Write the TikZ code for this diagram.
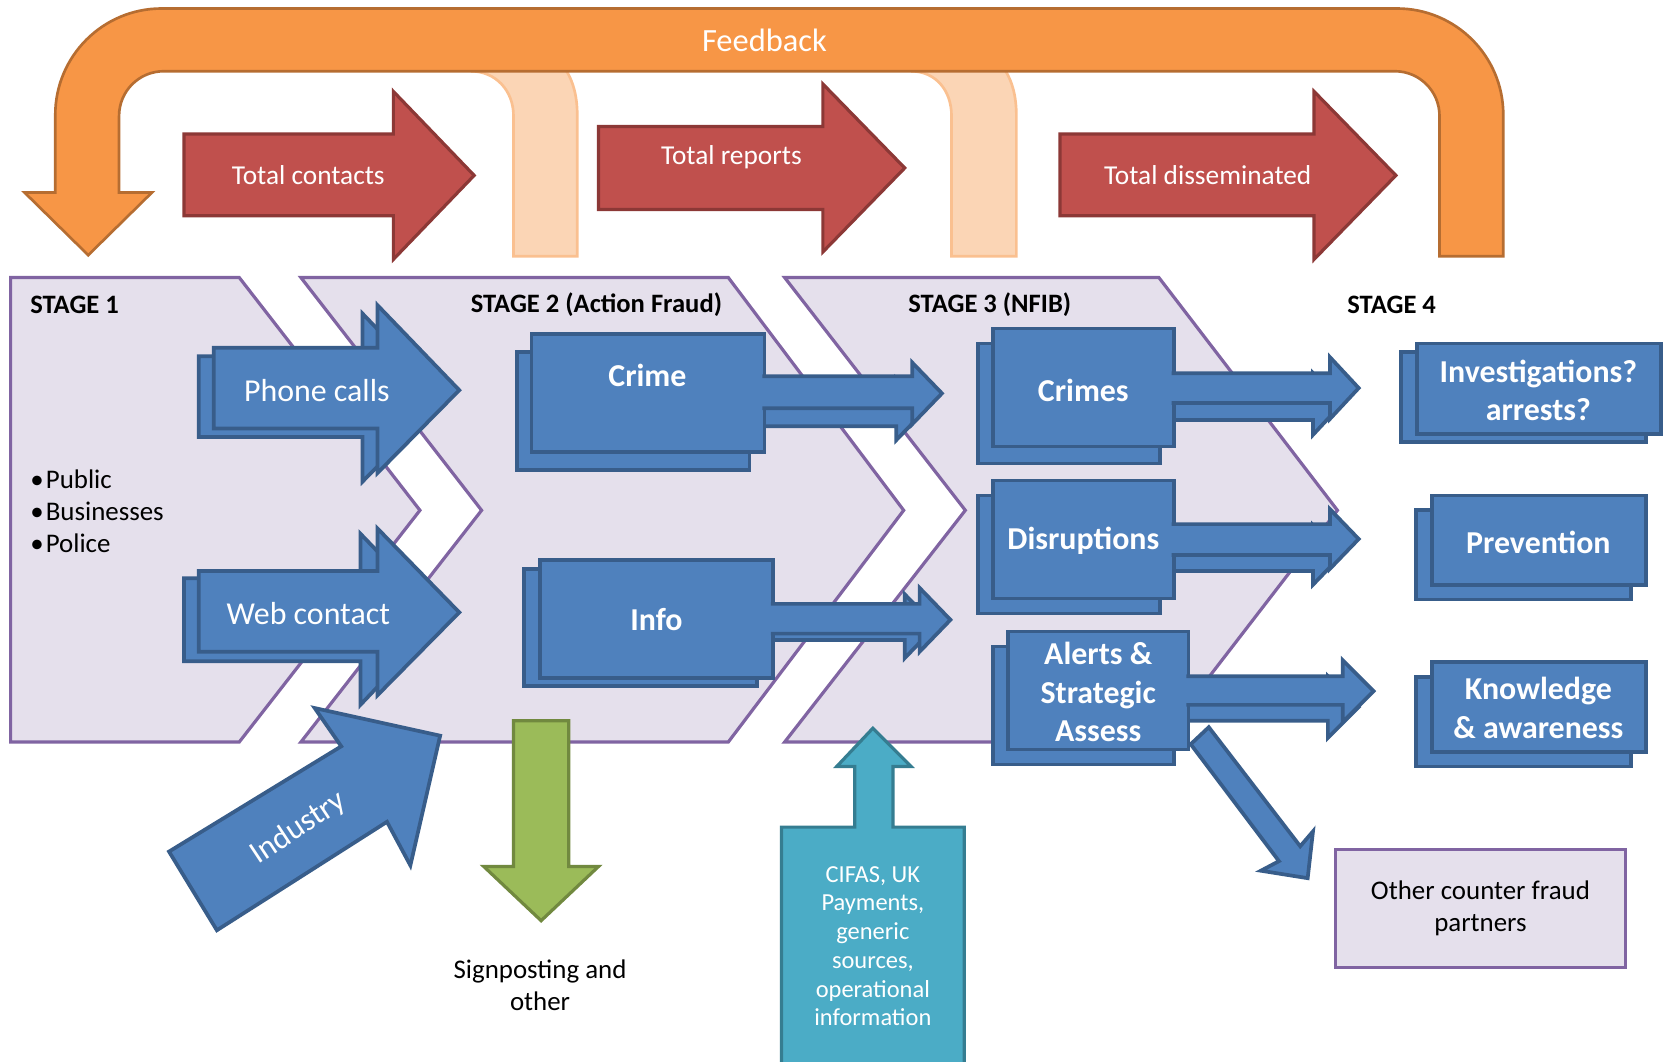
\documentclass[tikz,border=0pt]{standalone}
\usepackage{fontspec}
\setmainfont{Carlito}

\definecolor{lavfill}{HTML}{E5E0EC}
\definecolor{lavline}{HTML}{8064A2}
\definecolor{redfill}{HTML}{C0504D}
\definecolor{redline}{HTML}{8C3836}
\definecolor{orangefill}{HTML}{F79646}
\definecolor{orangeline}{HTML}{B66D31}
\definecolor{peachfill}{HTML}{FBD5B5}
\definecolor{peachline}{HTML}{FAC090}
\definecolor{bluefill}{HTML}{4F81BD}
\definecolor{blueline}{HTML}{385D8A}
\definecolor{greenfill}{HTML}{9BBB59}
\definecolor{greenline}{HTML}{71893F}
\definecolor{cyanfill}{HTML}{4BACC6}
\definecolor{cyanline}{HTML}{357D91}

\begin{document}
\begin{tikzpicture}[x=1pt, y=-1pt, line join=miter,
    stagebox/.style={fill=lavfill, draw=lavline, line width=3pt},
    redarrow/.style={fill=redfill, draw=redline, line width=3pt},
    feedarrow/.style={fill=orangefill, draw=orangeline, line width=2.5pt},
    ghost/.style={fill=peachfill, draw=peachline, line width=2.5pt},
    bluearrow/.style={fill=bluefill, draw=blueline, line width=3.5pt},
    greenarrow/.style={fill=greenfill, draw=greenline, line width=3pt},
    cyanarrow/.style={fill=cyanfill, draw=cyanline, line width=3pt},
    bluebox/.style={rectangle, fill=bluefill, draw=blueline, line width=3.5pt, inner sep=0pt},
    otherbox/.style={rectangle, fill=lavfill, draw=lavline, line width=3pt, inner sep=0pt},
    stagetext/.style={font=\fontsize{25}{30}\selectfont\bfseries},
    boxtext/.style={text=white, align=center, font=\fontsize{30}{36}\selectfont\bfseries},
    arrowtext/.style={text=white, font=\fontsize{30}{36}\selectfont},
    redtext/.style={text=white, font=\fontsize{25.7}{30}\selectfont},
    plaintext/.style={align=center, font=\fontsize{25.3}{30}\selectfont}]

    \useasboundingbox (0,0) rectangle (1568,998);

    % the three stages
    \draw[stagebox] (10,261) -- (225,261) -- (395,480) -- (225,698) -- (10,698) -- cycle;
    \draw[stagebox] (283,261) -- (685,261) -- (850,480) -- (685,698) -- (283,698) -- (453,480) -- cycle;
    \draw[stagebox] (738,261) -- (1090,261) -- (1258,480) -- (1090,698) -- (738,698) -- (908,480) -- cycle;

    \node (stageone) at (25,287) [stagetext, anchor=west] {STAGE 1};
    \node (stagetwo) at (561,287) [stagetext] {STAGE 2 (Action Fraud)};
    \node (stagethree) at (931,287) [stagetext] {STAGE 3 (NFIB)};
    \node (stagefour) at (1309,287) [stagetext] {STAGE 4};

    % feedback loop
    \draw[ghost] (443,67) .. controls (466,67) and (483,85) .. (483,109) -- (483,241) -- (543,241) -- (543,109) .. controls (543,90) and (539,77) .. (533,67);
    \draw[ghost] (857,67) .. controls (880,67) and (895,85) .. (895,109) -- (895,241) -- (956,241) -- (956,109) .. controls (956,90) and (952,77) .. (946,67);
    \draw[feedarrow] (83,240) -- (143,181) -- (112,181) -- (112,109) .. controls (112,85.8) and (130.8,67) .. (154,67) -- (1312,67) .. controls (1335.2,67) and (1354,85.8) .. (1354,109) -- (1354,241) -- (1414,241) -- (1414,108) .. controls (1414,52.8) and (1369.2,8) .. (1314,8) -- (152,8) .. controls (96.8,8) and (52,52.8) .. (52,108) -- (52,181) -- (23,181) -- cycle;
    \node (feedback) at (719,38) [arrowtext, font=\fontsize{30.5}{36}\selectfont] {Feedback};

    % totals
    \draw[redarrow] (173,126) -- (370,126) -- (370,86) -- (446,165) -- (370,244) -- (370,203) -- (173,203) -- cycle;
    \draw[redarrow] (563,119) -- (774,119) -- (774,79) -- (851,158) -- (774,237) -- (774,197) -- (563,197) -- cycle;
    \draw[redarrow] (997,126) -- (1236,126) -- (1236,86) -- (1313,165) -- (1236,244) -- (1236,203) -- (997,203) -- cycle;
    \node (contacts) at (290,165) [redtext] {Total contacts};
    \node (reports) at (688,148) [redtext] {Total reports};
    \node (disseminated) at (1136,165) [redtext] {Total disseminated};

    % stage 1 inputs
    \node (sources) at (25,481) [plaintext, anchor=west, align=left] {\textbullet\hspace{2pt}Public\\\textbullet\hspace{2pt}Businesses\\\textbullet\hspace{2pt}Police};
    \draw[bluearrow] (187,335) -- (341,335) -- (341,295) -- (418,375) -- (341,453) -- (341,411) -- (187,411) -- cycle;
    \draw[bluearrow] (201,327) -- (355,327) -- (355,287) -- (432,367) -- (355,445) -- (355,403) -- (201,403) -- cycle;
    \node (phone) at (298,367) [arrowtext] {Phone calls};
    \draw[bluearrow] (173,544) -- (339,544) -- (339,502) -- (416,582) -- (339,663) -- (339,622) -- (173,622) -- cycle;
    \draw[bluearrow] (187,537) -- (355,537) -- (355,497) -- (432,576) -- (355,654) -- (355,613) -- (187,613) -- cycle;
    \node (web) at (290,577) [arrowtext] {Web contact};
    \draw[bluearrow] (159,801) -- (321,702) -- (296,666) -- (414,692) -- (386,814) -- (364,773) -- (204,875) -- cycle;
    \node (industry) at (281,779) [arrowtext, rotate=33.5] {Industry};

    % stage 2
    \node (crimeback) at (595.5,386.5) [bluebox, minimum width=219pt, minimum height=111pt] {};
    \draw[bluearrow] (705,371) -- (843,371) -- (843,356) -- (871,385) -- (843,414) -- (843,401) -- (705,401);
    \node (crime) at (609.5,369.5) [bluebox, minimum width=219pt, minimum height=111pt] {};
    \draw[bluearrow] (717,354) -- (858,354) -- (858,341) -- (886,370) -- (858,399) -- (858,384) -- (717,384);
    \node (crimelabel) at (609,353) [boxtext] {Crime};

    \node (infoback) at (602.5,590) [bluebox, minimum width=219pt, minimum height=110pt] {};
    \draw[bluearrow] (712,574) -- (851,574) -- (851,559) -- (880,589) -- (851,619) -- (851,602) -- (712,602);
    \node (info) at (617.5,582.5) [bluebox, minimum width=219pt, minimum height=111pt] {};
    \draw[bluearrow] (725,568) -- (865,568) -- (865,553) -- (894,583) -- (865,613) -- (865,596) -- (725,596);
    \node (infolabel) at (info.center) [boxtext] {Info};

    \draw[greenarrow] (483,678) -- (535,678) -- (535,815) -- (563,815) -- (509,866) -- (455,815) -- (483,815) -- cycle;
    \node (signposting) at (508,927) [plaintext] {Signposting and\\other};

    % stage 3
    \node (crimesback) at (1005.5,379.5) [bluebox, minimum width=171pt, minimum height=113pt] {};
    \draw[bluearrow] (1091,366) -- (1235,366) -- (1235,351) -- (1262,380) -- (1235,409) -- (1235,395) -- (1091,395);
    \node (crimes) at (1019,364.5) [bluebox, minimum width=170pt, minimum height=111pt] {};
    \draw[bluearrow] (1102,351) -- (1251,351) -- (1251,336) -- (1278,365) -- (1251,394) -- (1251,379) -- (1102,379);
    \node (crimeslabel) at (1019,367) [boxtext] {Crimes};

    \node (disruptionsback) at (1005.5,521.5) [bluebox, minimum width=171pt, minimum height=111pt] {};
    \draw[bluearrow] (1091,508) -- (1235,508) -- (1235,494) -- (1262,522) -- (1235,550) -- (1235,537) -- (1091,537);
    \node (disruptions) at (1019,507.5) [bluebox, minimum width=170pt, minimum height=111pt] {};
    \draw[bluearrow] (1102,493) -- (1251,493) -- (1251,479) -- (1278,507) -- (1251,535) -- (1251,522) -- (1102,522);
    \node (disruptionslabel) at (1019,509) [boxtext] {Disruptions};

    \node (alertsback) at (1019,663.5) [bluebox, minimum width=170pt, minimum height=111pt] {};
    \draw[bluearrow] (1104,651) -- (1249,651) -- (1249,636) -- (1278,665) -- (1249,694) -- (1249,678) -- (1104,678);
    \node (alerts) at (1033,649.5) [bluebox, minimum width=170pt, minimum height=111pt] {};
    \draw[bluearrow] (1116,636) -- (1263,636) -- (1263,621) -- (1292,650) -- (1263,679) -- (1263,663) -- (1116,663);
    \node (alertslabel) at (1033,651) [boxtext] {Alerts \&\\Strategic\\Assess};
    \draw[bluearrow] (1120,700) -- (1137,684) -- (1223,796) -- (1235,782) -- (1230,826) -- (1186,819) -- (1203,810) -- cycle;

    \draw[cyanarrow] (735,1010) -- (735,778) -- (804,778) -- (804,721) -- (787,721) -- (821,685) -- (857,721) -- (840,721) -- (840,778) -- (907,778) -- (907,1010) -- cycle;
    \node (cifas) at (821,890) [plaintext, text=white, font=\fontsize{23}{27}\selectfont] {CIFAS, UK\\Payments,\\generic\\sources,\\operational\\information};

    % stage 4
    \node (investigationsback) at (1433,373.5) [bluebox, minimum width=230pt, minimum height=85pt] {};
    \node (investigations) at (1447.5,365.5) [bluebox, minimum width=229pt, minimum height=85pt] {};
    \node (investigationslabel) at (1447,367) [boxtext] {Investigations?\\arrests?};

    \node (preventionback) at (1433,522) [bluebox, minimum width=202pt, minimum height=84pt] {};
    \node (prevention) at (1447.5,508) [bluebox, minimum width=201pt, minimum height=84pt] {};
    \node (preventionlabel) at (1447,510) [boxtext] {Prevention};

    \node (knowledgeback) at (1433,679) [bluebox, minimum width=202pt, minimum height=84pt] {};
    \node (knowledge) at (1447.5,665) [bluebox, minimum width=201pt, minimum height=84pt] {};
    \node (knowledgelabel) at (1447,666) [boxtext] {Knowledge\\\& awareness};

    \node (partners) at (1392.5,854.5) [otherbox, minimum width=273pt, minimum height=111pt] {};
    \node (partnerslabel) at (partners.center) [plaintext] {Other counter fraud\\partners};
\end{tikzpicture}
\end{document}
